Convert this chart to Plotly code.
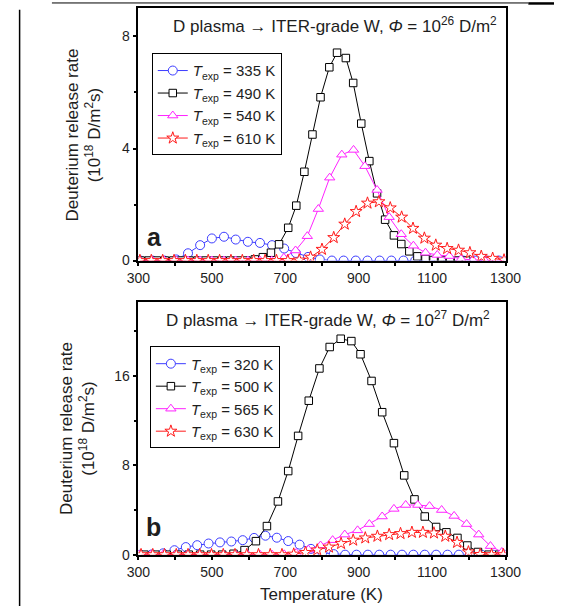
import plotly.graph_objects as go

# ---------------- data: panel a (fluence 1e26 D/m2) ----------------
a_blue_T = [305, 338, 370, 403, 435, 468, 500, 533, 565, 598, 631, 664, 697, 729, 762, 794,
            827, 859, 892, 924, 957, 989, 1022, 1054, 1087, 1119, 1152, 1184, 1217, 1249, 1282]
a_blue_v = [0, 0, 0, 0.04, 0.26, 0.55, 0.79, 0.85, 0.75, 0.67, 0.63, 0.55, 0.43, 0.27, 0.13, 0.04,
            0, 0, 0, 0, 0, 0, 0, 0, 0, 0, 0, 0, 0, 0, 0]

a_black_T = [306, 328, 350, 372, 395, 417, 439, 461, 483, 506, 528, 550, 572, 594, 617, 639, 661,
             683, 708, 730, 752, 774, 796, 820, 841, 865, 885, 907, 929, 950, 972, 996, 1016,
             1038, 1060, 1082, 1104, 1127, 1149, 1171, 1193]
a_black_v = [0, 0, 0, 0, 0, 0, 0, 0, 0, 0, 0, 0, 0, 0, 0.04, 0.12, 0.28,
             0.58, 1.17, 1.96, 3.17, 4.5, 5.83, 6.9, 7.42, 7.23, 6.34, 4.89, 3.55, 2.4, 1.46, 0.9, 0.59,
             0.33, 0.15, 0.06, 0.02, 0, 0, 0, 0]

a_pink_T = [305, 338, 370, 403, 435, 468, 500, 533, 565, 598, 631, 663, 696, 728, 760, 790, 821,
            854, 886, 917, 950, 983, 1016, 1049, 1082, 1114, 1147, 1179, 1211, 1244, 1276, 1300]
a_pink_v = [0, 0, 0, 0, 0, 0, 0, 0, 0, 0, 0, 0, 0.1, 0.36, 0.87, 1.84, 2.96,
            3.78, 3.95, 3.37, 2.52, 1.55, 0.94, 0.53, 0.28, 0.2, 0.16, 0.06, 0.02, 0, 0, 0]

a_red_T = [304, 335, 366, 397, 428, 459, 490, 521, 552, 583, 614, 645, 676, 707, 738, 769, 800,
           832, 862, 893, 924, 955, 986, 1017, 1048, 1079, 1110, 1141, 1172, 1203, 1234, 1265, 1296]
a_red_v = [0, 0, 0, 0, 0, 0, 0, 0, 0, 0, 0, 0, 0, 0, 0.02, 0.12, 0.4,
           0.82, 1.3, 1.75, 2.05, 2.1, 1.88, 1.55, 1.15, 0.8, 0.55, 0.43, 0.37, 0.28, 0.15, 0.08, 0.02]

# ---------------- data: panel b (fluence 1e27 D/m2) ----------------
b_blue_T = [305, 336, 367, 398, 429, 460, 491, 522, 553, 584, 615, 646, 677, 708, 739, 770, 801,
            832, 863, 894, 925, 956, 987, 1018, 1049, 1080, 1111, 1142, 1173, 1204, 1235, 1266, 1297]
b_blue_v = [0, 0.02, 0.12, 0.4, 0.68, 0.85, 1.0, 1.1, 1.18, 1.3, 1.5, 1.7, 1.52, 1.22, 0.9, 0.52, 0.2,
            0.05, 0, 0, 0, 0, 0, 0, 0, 0, 0, 0, 0, 0, 0, 0, 0]

b_black_T = [316, 346, 377, 407, 437, 468, 498, 528, 559, 589, 620, 650, 680, 708, 735, 764, 793,
             821, 851, 880, 905, 935, 964, 996, 1024, 1052, 1080, 1111, 1139, 1169, 1196, 1225,
             1254, 1283]
b_black_v = [0, 0, 0, 0, 0, 0, 0, 0, 0.08, 0.41, 1.21, 2.56, 4.77, 7.49, 10.64, 13.79, 16.68,
             18.6, 19.34, 19.13, 17.95, 15.56, 12.76, 9.99, 7.1, 4.95, 3.42, 2.48, 2.0, 1.5, 0.82, 0.24,
             0, 0]

b_pink_T = [301, 334, 367, 400, 433, 466, 499, 532, 565, 598, 631, 664, 697, 730, 763, 796, 829,
            862, 897, 929, 964, 996, 1028, 1061, 1093, 1126, 1160, 1194, 1227, 1259, 1290]
b_pink_v = [0, 0, 0, 0, 0, 0, 0, 0, 0, 0, 0, 0, 0.03, 0.15, 0.45, 0.82, 1.3,
            1.8, 2.18, 2.74, 3.42, 4.1, 4.45, 4.45, 4.35, 4.0, 3.47, 2.74, 1.8, 0.77, 0.24]

b_red_T = [307, 339, 371, 403, 435, 467, 499, 531, 563, 595, 627, 659, 691, 723, 755, 787, 819,
           852, 885, 918, 951, 983, 1014, 1045, 1075, 1105, 1136, 1168, 1199, 1231, 1262, 1294]
b_red_v = [0, 0, 0, 0, 0, 0, 0, 0, 0, 0, 0, 0, 0, 0.05, 0.2, 0.42, 0.68,
           1.0, 1.3, 1.5, 1.65, 1.8, 1.89, 2.0, 2.0, 1.94, 1.65, 1.1, 0.25, 0.02, 0, 0]

a_labels = ["335 K", "490 K", "540 K", "610 K"]
b_labels = ["320 K", "500 K", "565 K", "630 K"]
x_ticks = [300, 500, 700, 900, 1100, 1300]

# ---------------- styles ----------------
FONT = "Liberation Sans, Arial, sans-serif"
TXT = "#1e1e1e"
styles = [
    dict(color="#3c3cff", symbol="circle", size=9),
    dict(color="#000000", symbol="square", size=7.5),
    dict(color="#ff22ff", symbol="triangle-up", size=9),
    dict(color="#ff1a1a", symbol="star", size=9),
]

fig = go.Figure()

def add_panel(series, labels, xa, ya, legend):
    for (T, v), lab, st in zip(series, labels, styles):
        fig.add_trace(go.Scatter(
            x=T, y=v, mode="lines+markers",
            name="<i>T</i><sub>exp</sub> = " + lab,
            line=dict(color=st["color"], width=1),
            marker=dict(symbol=st["symbol"], size=st["size"], color="white",
                        line=dict(color=st["color"], width=1)),
            xaxis=xa, yaxis=ya, legend=legend,
        ))

add_panel([(a_blue_T, a_blue_v), (a_black_T, a_black_v), (a_pink_T, a_pink_v), (a_red_T, a_red_v)],
          a_labels, "x", "y", "legend")
add_panel([(b_blue_T, b_blue_v), (b_black_T, b_black_v), (b_pink_T, b_pink_v), (b_red_T, b_red_v)],
          b_labels, "x2", "y2", "legend2")

W, H = 570, 614
def px(x): return x / W
def py(y): return 1 - y / H

axis_common = dict(showline=True, mirror=True, linecolor="black", linewidth=1.5,
                   ticks="outside", ticklen=4, tickwidth=1.5, tickcolor="black",
                   showgrid=False, zeroline=False,
                   tickfont=dict(family=FONT, size=14, color=TXT))

xdom = [px(133), px(519)]
fig.update_layout(
    width=W, height=H, margin=dict(l=0, r=0, t=0, b=0),
    paper_bgcolor="white", plot_bgcolor="white",
    font=dict(family=FONT, color=TXT),
    xaxis=dict(domain=xdom, anchor="y", range=[300, 1300], tickvals=x_ticks,
               minor=dict(dtick=100, ticks="outside", ticklen=4, tickwidth=1.5, tickcolor="black"),
               **axis_common),
    yaxis=dict(domain=[py(264), py(8)], anchor="x", range=[0, 9.02], dtick=4,
               minor=dict(dtick=2, ticks="outside", ticklen=3, tickwidth=1.5, tickcolor="black"),
               **axis_common),
    xaxis2=dict(domain=xdom, anchor="y2", range=[300, 1300], tickvals=x_ticks,
                minor=dict(dtick=100, ticks="outside", ticklen=4, tickwidth=1.5, tickcolor="black"),
                **axis_common),
    yaxis2=dict(domain=[py(562), py(306)], anchor="x2", range=[0, 22.63], dtick=8,
                minor=dict(dtick=4, ticks="outside", ticklen=3, tickwidth=1.5, tickcolor="black"),
                **axis_common),
    legend=dict(x=px(147), y=py(54), xanchor="left", yanchor="top",
                bordercolor="black", borderwidth=1, bgcolor="white",
                font=dict(family=FONT, size=15, color=TXT), tracegroupgap=0),
    legend2=dict(x=px(145), y=py(351), xanchor="left", yanchor="top",
                 bordercolor="black", borderwidth=1, bgcolor="white",
                 font=dict(family=FONT, size=15, color=TXT), tracegroupgap=0),
    showlegend=True,
)

ann = [
    dict(text="D plasma \u2192 ITER-grade W, <i>\u03a6</i> = 10<sup>26</sup> D/m<sup>2</sup>",
         x=px(340), y=py(25), size=17),
    dict(text="D plasma \u2192 ITER-grade W, <i>\u03a6</i> = 10<sup>27</sup> D/m<sup>2</sup>",
         x=px(332), y=py(323), size=17),
    dict(text="<b>a</b>", x=px(150), y=py(240), size=25),
    dict(text="<b>b</b>", x=px(149), y=py(534), size=25),
    dict(text="Temperature (K)", x=px(326), y=py(602), size=17),
]
for a in ann:
    fig.add_annotation(text=a["text"], x=a["x"], y=a["y"], xref="paper", yref="paper",
                       xanchor="center", yanchor="middle", showarrow=False,
                       font=dict(family=FONT, size=a["size"], color=TXT))

for xc, yc in [(75, 137), (69, 434)]:
    fig.add_annotation(text="Deuterium release rate<br>(10<sup>18</sup> D/m<sup>2</sup>s)",
                       x=px(xc), y=py(yc), xref="paper", yref="paper", textangle=-90,
                       xanchor="center", yanchor="middle", showarrow=False,
                       font=dict(family=FONT, size=17, color=TXT))

# page frame lines from the source document
fig.add_shape(type="line", xref="paper", yref="paper", x0=px(42), x1=px(543), y0=py(3), y1=py(3),
              line=dict(color="black", width=1))
fig.add_shape(type="line", xref="paper", yref="paper", x0=px(543), x1=px(570), y0=py(3.5), y1=py(3.5),
              line=dict(color="black", width=2.5))
fig.add_shape(type="line", xref="paper", yref="paper", x0=px(8), x1=px(8), y0=py(10), y1=py(614),
              line=dict(color="black", width=1.5))

fig.write_html("out.html", config={"displayModeBar": False},
               post_script="document.body.style.margin='0';document.body.style.overflow='hidden';")
